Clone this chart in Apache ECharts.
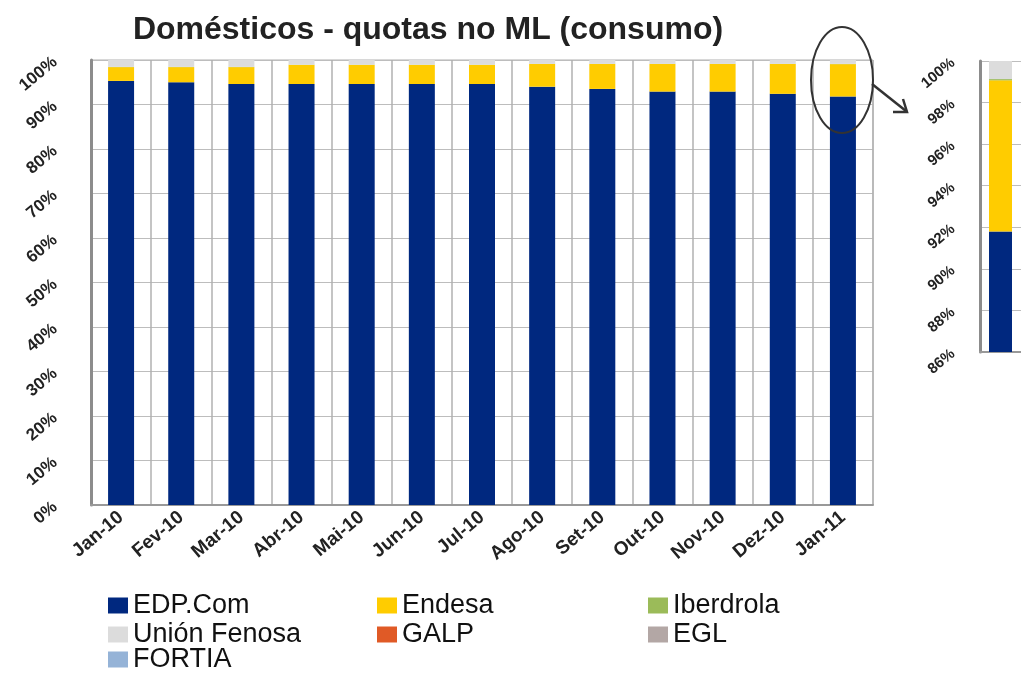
<!DOCTYPE html>
<html>
<head>
<meta charset="utf-8">
<script src="https://cdn.jsdelivr.net/npm/echarts@6/dist/echarts.min.js"></script>
<style>
html,body{margin:0;padding:0;background:#fff;}
#chart{width:1021px;height:673px;}
</style>
</head>
<body>
<div id="chart"></div>
<script>
// ---- data ----
const categories = ['Jan-10','Fev-10','Mar-10','Abr-10','Mai-10','Jun-10','Jul-10','Ago-10','Set-10','Out-10','Nov-10','Dez-10','Jan-11'];
const edpCom      = [95.3, 95.0, 94.6, 94.6, 94.6, 94.6, 94.6, 94.0, 93.5, 92.9, 92.9, 92.4, 91.8];
const endesa      = [3.1, 3.4, 3.8, 4.3, 4.3, 4.3, 4.3, 5.1, 5.6, 6.2, 6.2, 6.7, 7.27];
const iberdrola   = [0.05, 0.05, 0.05, 0.05, 0.05, 0.05, 0.05, 0.05, 0.05, 0.05, 0.05, 0.05, 0.06];
const unionFenosa = [1.55, 1.55, 1.55, 1.05, 1.05, 1.05, 1.05, 0.85, 0.85, 0.85, 0.85, 0.85, 0.87];
const galp        = [0, 0, 0, 0, 0, 0, 0, 0, 0, 0, 0, 0, 0];
const egl         = [0, 0, 0, 0, 0, 0, 0, 0, 0, 0, 0, 0, 0];
const fortia      = [0, 0, 0, 0, 0, 0, 0, 0, 0, 0, 0, 0, 0];
const insetCategory = ['Jan-11'];

const seriesDefs = [
  {name:'EDP.Com', data:edpCom, color:'#00287F'},
  {name:'Endesa', data:endesa, color:'#FFCC00'},
  {name:'Iberdrola', data:iberdrola, color:'#9BBB59'},
  {name:'Unión Fenosa', data:unionFenosa, color:'#DCDCDC'},
  {name:'GALP', data:galp, color:'#E05A26'},
  {name:'EGL', data:egl, color:'#B3A7A5'},
  {name:'FORTIA', data:fortia, color:'#95B3D7'}
];

const chart = echarts.init(document.getElementById('chart'), null, {renderer:'canvas'});

const series = [];
seriesDefs.forEach(d => {
  series.push({
    name:d.name, type:'bar', stack:'main', xAxisIndex:0, yAxisIndex:0,
    data:d.data, barWidth:26, itemStyle:{color:d.color}, emphasis:{disabled:true}
  });
});
seriesDefs.forEach(d => {
  series.push({
    name:d.name, type:'bar', stack:'inset', xAxisIndex:1, yAxisIndex:1,
    data:[d.data[d.data.length-1]], barWidth:23, itemStyle:{color:d.color}, emphasis:{disabled:true}
  });
});

const legendText = {fontSize:27, color:'#111', fontFamily:'Liberation Sans, Arial, sans-serif', lineHeight:25};
function legendCol(names, left, top){
  return {
    orient:'vertical', left:left, top:top, itemWidth:20, itemHeight:16, itemGap:2,
    icon:'rect', selectedMode:false, data:names, textStyle:legendText, padding:0
  };
}

const labelFont = {fontFamily:'Liberation Sans, Arial, sans-serif', fontWeight:'bold', color:'#222'};

chart.setOption({
  animation:false,
  backgroundColor:'#fff',
  title:{
    text:'Domésticos - quotas no ML (consumo)', left:423, top:9, textAlign:'center',
    textStyle:{fontSize:32, fontWeight:'bold', color:'#222', fontFamily:'Liberation Sans, Arial, sans-serif'}
  },
  legend:[
    legendCol(['EDP.Com','Unión Fenosa'], 108, 592),
    legendCol(['FORTIA'], 108, 646),
    legendCol(['Endesa','GALP'], 377, 592),
    legendCol(['Iberdrola','EGL'], 648, 592)
  ],
  grid:[
    {left:91, top:60, width:782, height:445, show:true, borderColor:'#b0b0b0', borderWidth:1},
    {left:980, top:61, width:49, height:291}
  ],
  xAxis:[
    {type:'category', gridIndex:0, data:categories,
     axisLine:{lineStyle:{color:'#999', width:2}}, axisTick:{show:false},
     splitLine:{show:true, interval:0, lineStyle:{color:'#b0b0b0', width:1.5}},
     axisLabel:Object.assign({rotate:40, fontSize:19, margin:10, interval:0}, labelFont)},
    {type:'category', gridIndex:1, data:insetCategory,
     axisLine:{lineStyle:{color:'#999', width:2}}, axisTick:{show:false},
     axisLabel:{show:false}}
  ],
  yAxis:[
    {type:'value', gridIndex:0, min:0, max:100, interval:10,
     axisLine:{show:true, lineStyle:{color:'#8c8c8c', width:3}}, axisTick:{show:false},
     splitLine:{lineStyle:{color:'#bdbdbd', width:1}},
     axisLabel:Object.assign({rotate:40, fontSize:17, margin:36, formatter:'{value}%'}, labelFont)},
    {type:'value', gridIndex:1, min:86, max:100, interval:2,
     axisLine:{show:true, lineStyle:{color:'#8c8c8c', width:3}}, axisTick:{show:false},
     splitLine:{lineStyle:{color:'#bdbdbd', width:1}},
     axisLabel:Object.assign({rotate:40, fontSize:15, margin:27, formatter:'{value}%'}, labelFont)}
  ],
  graphic:[
    {type:'ellipse', shape:{cx:842, cy:80, rx:31, ry:53}, style:{fill:null, stroke:'#333', lineWidth:2}, z:100},
    {type:'polyline', shape:{points:[[872,84],[906,111]]}, style:{stroke:'#333', lineWidth:2.5, fill:null}, z:100},
    {type:'polyline', shape:{points:[[903,99],[907,112],[893,112]]}, style:{stroke:'#333', lineWidth:2.5, fill:null}, z:100}
  ],
  series:series
});
</script>
</body>
</html>
